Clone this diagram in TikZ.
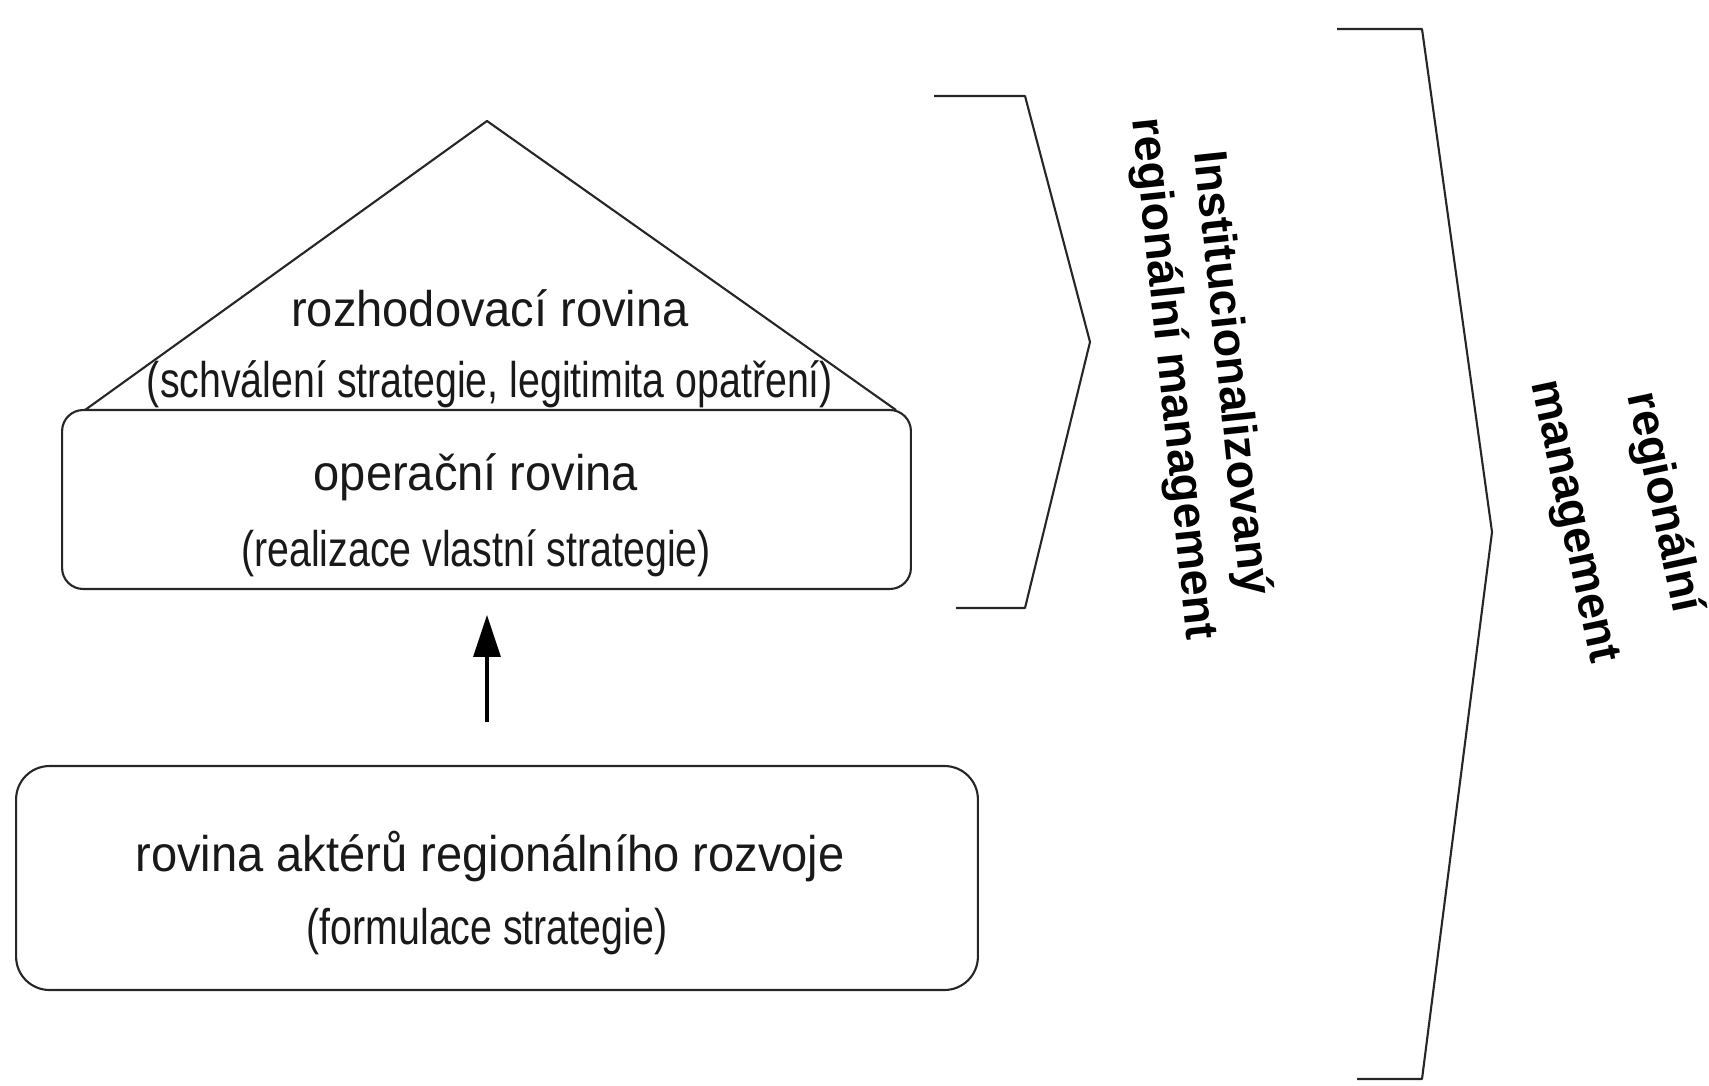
\documentclass[tikz,border=0pt]{standalone}
\usepackage{fontspec}
\setmainfont{Liberation Sans}
\newfontfamily\headfont[FakeStretch=0.94]{Liberation Sans}
\newfontfamily\notefont[FakeStretch=0.785]{Liberation Sans}
\usepackage{tikz}
\usetikzlibrary{positioning,calc,arrows.meta}

\tikzset{
    level/.style={draw=black!85, line width=1.2pt},
    head/.style={font=\headfont\fontsize{28.5}{34}\selectfont, text=black!90},
    note/.style={font=\notefont\fontsize{28.5}{34}\selectfont, text=black!90},
    side/.style={font=\bfseries\fontsize{26.6}{33}\selectfont, align=center, inner sep=0pt},
    brace/.style={draw=black!85, line width=1.2pt},
    uparrow/.style={-{Triangle[width=15pt,length=24pt]}, line width=2.8pt, black}
}

\begin{document}
\begin{tikzpicture}[x=0.02cm, y=-0.02cm]
    \useasboundingbox (0,0) rectangle (1709,1085);

    % pyramid: roof + operational level
    \coordinate (apex) at (487,121);
    \coordinate (baseL) at (85,410);
    \coordinate (baseR) at (896,410);
    \draw [level, line join=round] (baseL) -- (apex) -- (baseR);
    \node [level, rounded corners=12pt, minimum width=16.98cm, minimum height=3.58cm] (oper) at (486.5,499.5) {};
    \node [head] (decT) at (490,308) {rozhodovací rovina};
    \node [note] (decS) at (490,384) {(schválení strategie, legitimita opatření)};
    \node [head] (operT) at (476,477) {operační rovina};
    \node [note] (operS) at (476,553) {(realizace vlastní strategie)};

    % actors level
    \node [level, rounded corners=19pt, minimum width=19.24cm, minimum height=4.48cm] (actors) at (497,878) {};
    \node [head] (actT) at (490,856) {rovina aktérů regionálního rozvoje};
    \node [note] (actS) at (487,932) {(formulace strategie)};
    \coordinate (tail) at (487,722);
    \draw [uparrow, shorten >=14pt] (tail) -- (oper.south -| tail);

    % inner bracket
    \draw [brace, line join=round] (934,96) -- (1025,96) -- (1090,342) -- (1025,608) -- (956,608);
    \node [side, rotate=-84] (inst) at (1201,376) {Institucionalizovaný\\regionální management};

    % outer bracket
    \draw [brace, line join=round] (1337,29) -- (1422,29) -- (1492,532) -- (1422,1079) -- (1357,1079);
    \node [side, rotate=-78, font=\bfseries\fontsize{26.6}{52}\selectfont] (reg) at (1618,512) {regionální\\management};
\end{tikzpicture}
\end{document}
